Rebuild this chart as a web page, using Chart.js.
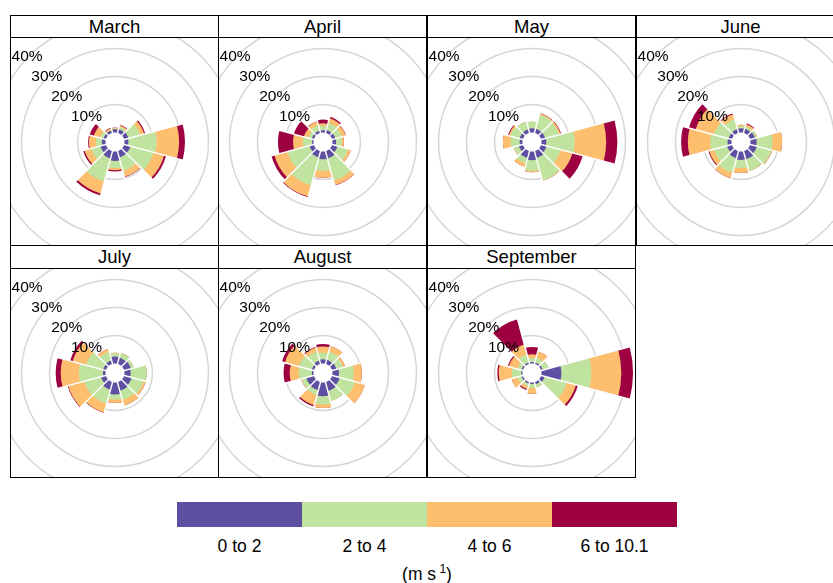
<!DOCTYPE html>
<html>
<head>
<meta charset="utf-8">
<script src="https://cdn.jsdelivr.net/npm/chart.js@4.4.0/dist/chart.umd.min.js"></script>
<style>
  html, body { margin: 0; padding: 0; background: #fff; }
  body { width: 833px; height: 583px; overflow: hidden; position: relative;
         font-family: "Liberation Sans", Arial, sans-serif; font-weight: 400; color: #000; }
  .panel { position: absolute; box-sizing: border-box; border: 1px solid #000; background: #fff; }
  .strip { box-sizing: border-box; border-bottom: 1px solid #000; text-align: center; font-size: 18.5px; }
  .plot { position: relative; overflow: hidden; }
  .plot canvas { position: absolute; }
  .key { position: absolute; left: 177px; top: 502px; width: 500px; height: 25px; display: flex; }
  .key div { flex: 1; }
  .key-label { position: absolute; top: 536px; width: 125px; text-align: center; font-size: 17.5px; }
  .key-title { position: absolute; top: 562px; left: 327px; width: 200px; text-align: center; font-size: 17.5px; }
</style>
</head>
<body>
<script>
// Wind direction sectors (degrees, clockwise from north)
const DIRECTIONS = ['0', '30', '60', '90', '120', '150', '180', '210', '240', '270', '300', '330'];
const SPEED_CLASSES = ['0 to 2', '2 to 4', '4 to 6', '6 to 10.1'];
const SPEED_COLORS = ['#5E4FA2', '#C0E4A0', '#FDBE6E', '#9E0142'];
const RING_TICKS = [10, 20, 30, 40];
const MONTHS = ['March', 'April', 'May', 'June', 'July', 'August', 'September'];

// Cumulative frequency (%) per sector: up to 2, 4, 6, 10.1 m/s
const MARCH = [
    [1.2, 1.4, 1.7, 1.8], [1.3, 2.3, 2.8, 3.0], [1.6, 5.9, 7.4, 7.8], [1.4, 11.5, 19.5, 21.6],
    [2.3, 10.9, 14.8, 15.5], [2.3, 7.3, 9.5, 9.6], [3.4, 5.9, 6.7, 7.1], [2.7, 11.2, 15.7, 16.4],
    [2.0, 5.5, 7.9, 8.4], [1.3, 3.4, 5.9, 6.2], [0.9, 2.1, 4.5, 6.0], [0.9, 1.1, 1.7, 1.9],
];
const APRIL = [
    [0.8, 2.5, 3.3, 4.6], [1.0, 3.7, 5.4, 5.9], [1.2, 3.5, 5.0, 5.1], [1.3, 3.4, 4.1, 4.1],
    [2.0, 6.0, 6.9, 6.9], [2.7, 10.9, 12.6, 12.7], [2.8, 7.0, 9.4, 9.4], [2.3, 12.7, 16.8, 17.0],
    [1.6, 9.8, 14.6, 15.7], [0.5, 3.8, 7.3, 12.7], [0.8, 2.0, 3.7, 7.4], [0.8, 2.8, 4.2, 4.3],
];
const MAY = [
    [1.5, 3.8, 3.8, 3.8], [1.5, 6.8, 7.2, 7.3], [1.5, 6.6, 7.2, 7.4], [1.7, 11.9, 23.1, 27.1],
    [2.0, 7.3, 11.6, 15.4], [2.5, 10.8, 10.9, 10.9], [3.1, 7.0, 7.4, 7.4], [2.5, 4.5, 5.8, 5.8],
    [1.5, 3.3, 3.4, 3.4], [1.0, 4.2, 7.0, 7.0], [1.2, 4.6, 5.2, 5.5], [1.3, 4.1, 4.1, 4.1],
];
const JUNE = [
    [1.5, 2.3, 2.8, 2.8], [1.5, 2.3, 3.2, 3.5], [1.8, 2.5, 2.6, 2.6], [2.2, 7.9, 11.3, 11.3],
    [2.5, 7.8, 8.1, 8.1], [3.0, 7.2, 7.3, 7.3], [3.0, 5.9, 7.7, 7.7], [2.6, 8.0, 10.0, 10.0],
    [1.8, 6.6, 8.4, 8.7], [1.4, 7.6, 15.6, 18.0], [1.2, 6.6, 13.4, 15.9], [1.3, 5.0, 6.9, 7.2],
];
const JULY = [
    [2.5, 3.7, 3.8, 3.8], [2.3, 4.0, 4.1, 4.1], [2.5, 3.5, 3.5, 3.5], [2.2, 7.9, 7.9, 7.9],
    [2.8, 7.3, 8.0, 8.0], [3.2, 6.6, 8.7, 8.7], [4.3, 6.1, 7.3, 7.3], [2.8, 8.0, 11.2, 11.4],
    [1.8, 8.0, 13.9, 14.1], [0.9, 9.5, 16.0, 17.8], [1.0, 7.3, 12.3, 13.2], [1.2, 4.5, 5.5, 5.5],
];
const AUGUST = [
    [1.5, 3.8, 6.1, 7.0], [1.5, 4.6, 6.6, 6.6], [1.6, 4.0, 4.8, 4.8], [2.3, 7.6, 10.5, 10.5],
    [2.8, 8.4, 12.1, 12.1], [3.3, 6.9, 6.9, 6.9], [4.9, 7.9, 9.1, 9.1], [3.0, 4.8, 8.5, 9.0],
    [2.8, 4.5, 4.7, 4.7], [0.6, 5.3, 8.5, 10.7], [0.8, 5.5, 10.7, 11.8], [1.2, 4.5, 6.0, 6.3],
];
const SEPTEMBER = [
    [0.5, 2.0, 3.3, 5.9], [0.5, 2.3, 4.6, 4.6], [0.6, 2.7, 2.7, 2.7], [7.1, 17.8, 28.5, 32.7],
    [1.3, 9.5, 12.9, 13.6], [0.8, 2.0, 2.0, 2.0], [0.5, 2.0, 4.0, 4.0], [0.5, 1.5, 2.6, 3.0],
    [0.5, 2.0, 4.2, 4.2], [0.4, 3.8, 8.5, 9.0], [0.5, 2.0, 5.2, 5.6], [0.5, 3.5, 7.1, 16.5],
];
const MONTH_DATA = [MARCH, APRIL, MAY, JUNE, JULY, AUGUST, SEPTEMBER];

// ── Layout (lattice style panels) ───────────────────────────────────────
const COL_X = [10, 218, 427, 636];
const ROWS = [
    { top: 15, height: 231, strip: 22 },
    { top: 245, height: 233, strip: 23 },
];
const CANVAS_SIZE = 260;
const HOLE_PX = 9.5;   // radius of the calm hole
const PX_PER_PCT = 2.8;

const GRID_COLOR = 'rgb(214,214,214)';

// White radial separators between neighbouring sectors
const sectorGaps = {
    id: 'sectorGaps',
    afterDatasetsDraw(chart) {
        const scale = chart.scales.r;
        const sets = chart.data.datasets;
        const totals = sets[sets.length - 1].data;
        const ctx = chart.ctx;
        ctx.save();
        ctx.strokeStyle = '#fff';
        ctx.lineWidth = 1.4;
        totals.forEach((t, i) => {
            const prev = totals[(i + totals.length - 1) % totals.length];
            const angle = scale.getIndexAngle(i) - Math.PI / 2;
            const len = scale.getDistanceFromCenterForValue(Math.max(t, prev)) + 1;
            ctx.beginPath();
            ctx.moveTo(scale.xCenter, scale.yCenter);
            ctx.lineTo(scale.xCenter + Math.cos(angle) * len, scale.yCenter + Math.sin(angle) * len);
            ctx.stroke();
        });
        ctx.restore();
    },
};

// Percentage labels along the north-west diagonal
const ringLabels = {
    id: 'ringLabels',
    afterDraw(chart) {
        const scale = chart.scales.r;
        const ctx = chart.ctx;
        ctx.save();
        ctx.font = '15.5px "Liberation Sans", Arial, sans-serif';
        ctx.fillStyle = '#000';
        ctx.textAlign = 'center';
        ctx.textBaseline = 'middle';
        RING_TICKS.forEach((v) => {
            const d = scale.getDistanceFromCenterForValue(v) * Math.SQRT1_2;
            ctx.fillText(v + '%', scale.xCenter - d - 2, scale.yCenter - d + 1);
        });
        ctx.restore();
    },
};

function buildPanel(name, rows, index) {
    const row = ROWS[Math.floor(index / 4)];
    const panel = document.createElement('div');
    panel.className = 'panel';
    panel.style.left = COL_X[index % 4] + 'px';
    panel.style.top = row.top + 'px';
    panel.style.width = '209px';
    panel.style.height = row.height + 'px';

    const strip = document.createElement('div');
    strip.className = 'strip';
    strip.style.height = row.strip + 'px';
    strip.style.lineHeight = (row.strip - 1) + 'px';
    strip.textContent = name;
    panel.appendChild(strip);

    const plotW = 207;
    const plotH = row.height - 2 - row.strip;
    const plot = document.createElement('div');
    plot.className = 'plot';
    plot.style.width = plotW + 'px';
    plot.style.height = plotH + 'px';

    const canvas = document.createElement('canvas');
    canvas.width = CANVAS_SIZE;
    canvas.height = CANVAS_SIZE;
    canvas.style.left = Math.round(plotW / 2 - CANVAS_SIZE / 2) + 'px';
    canvas.style.top = Math.round(plotH / 2 - CANVAS_SIZE / 2) + 'px';
    plot.appendChild(canvas);
    panel.appendChild(plot);
    document.body.appendChild(panel);

    // dataset 0 (drawn last) is the white calm hole, then the cumulative speed classes
    const datasets = [{ data: DIRECTIONS.map(() => 0), backgroundColor: '#fff', borderWidth: 0 }];
    SPEED_CLASSES.forEach((label, k) => {
        datasets.push({
            label,
            data: rows.map((r) => r[k]),
            backgroundColor: SPEED_COLORS[k],
            borderWidth: 0,
        });
    });

    const half = CANVAS_SIZE / 2;
    new Chart(canvas, {
        type: 'polarArea',
        data: { labels: DIRECTIONS, datasets },
        options: {
            responsive: false,
            animation: false,
            devicePixelRatio: 1,
            events: [],
            layout: { padding: 0 },
            plugins: { legend: { display: false }, tooltip: { enabled: false } },
            scales: {
                r: {
                    min: -HOLE_PX / PX_PER_PCT,
                    max: (half - HOLE_PX) / PX_PER_PCT,
                    startAngle: -15,
                    ticks: { display: false },
                    pointLabels: { display: false },
                    angleLines: { display: false },
                    grid: { circular: true, color: GRID_COLOR, lineWidth: 1.5 },
                    afterBuildTicks: (scale) => {
                        scale.ticks = RING_TICKS.map((v) => ({ value: v }));
                    },
                },
            },
        },
        plugins: [sectorGaps, ringLabels],
    });
}

MONTHS.forEach((m, i) => buildPanel(m, MONTH_DATA[i], i));

// ── Colour key ──────────────────────────────────────────────────────────
const key = document.createElement('div');
key.className = 'key';
SPEED_COLORS.forEach((c) => {
    const seg = document.createElement('div');
    seg.style.background = c;
    key.appendChild(seg);
});
document.body.appendChild(key);

SPEED_CLASSES.forEach((label, k) => {
    const el = document.createElement('div');
    el.className = 'key-label';
    el.style.left = (177 + k * 125) + 'px';
    el.textContent = label;
    document.body.appendChild(el);
});

const keyTitle = document.createElement('div');
keyTitle.className = 'key-title';
keyTitle.innerHTML = '(m s<sup style="font-size:12px">&nbsp;1</sup>)';
document.body.appendChild(keyTitle);
</script>
</body>
</html>
